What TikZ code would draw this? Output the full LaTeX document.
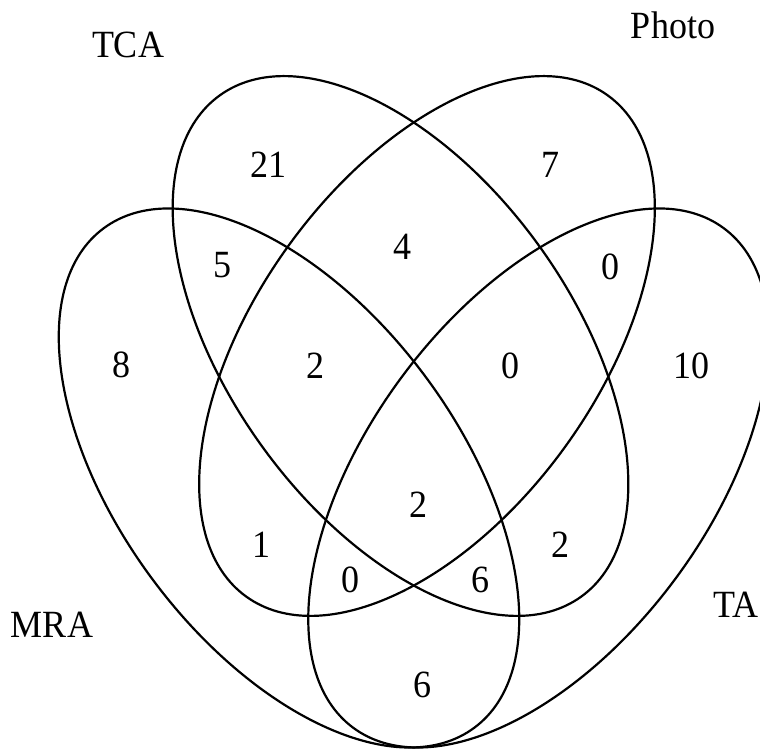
\documentclass[tikz,border=0pt]{standalone}
\usepackage{fontspec}
\setmainfont{Liberation Serif}
\begin{document}
\begin{tikzpicture}[x=1pt,y=1pt,
  setline/.style={line width=2.2pt, black},
  lbl/.style={font=\fontsize{36}{40}\selectfont, inner sep=0pt, yscale=1.07, transform shape}]
\useasboundingbox (0,0) rectangle (760,749);
\clip (0,0) rectangle (760,749);
% sets
\draw[setline, rotate around={-54.2:(400.5,403)}] (400.5,403) ellipse [x radius=309, y radius=171];
\draw[setline, rotate around={54.2:(427,403)}] (427,403) ellipse [x radius=309, y radius=171];
\draw[setline, rotate around={-53.4:(289,271)}] (289,271) ellipse [x radius=311, y radius=170];
\draw[setline, rotate around={53.4:(538.5,271)}] (538.5,271) ellipse [x radius=311, y radius=170];
% set names
\node[lbl] (tca) at (128,704) {TCA};
\node[lbl] (photo) at (673,724) {Photo};
\node[lbl] (mra) at (52,124) {MRA};
\node[lbl] (ta) at (736,144) {TA};
% counts
\node[lbl] (n21) at (268,584) {21};
\node[lbl] (n7) at (550,584) {7};
\node[lbl] (n5) at (222,484) {5};
\node[lbl] (n4) at (402,502) {4};
\node[lbl] (n0a) at (610,482) {0};
\node[lbl] (n8) at (121,384) {8};
\node[lbl] (n2a) at (315,383) {2};
\node[lbl] (n0b) at (510,383) {0};
\node[lbl] (n10) at (691,383) {10};
\node[lbl] (n2b) at (418,244) {2};
\node[lbl] (n1) at (261,204) {1};
\node[lbl] (n2c) at (560,204) {2};
\node[lbl] (n0c) at (350,169) {0};
\node[lbl] (n6a) at (480,169) {6};
\node[lbl] (n6b) at (422,64) {6};
\end{tikzpicture}
\end{document}
